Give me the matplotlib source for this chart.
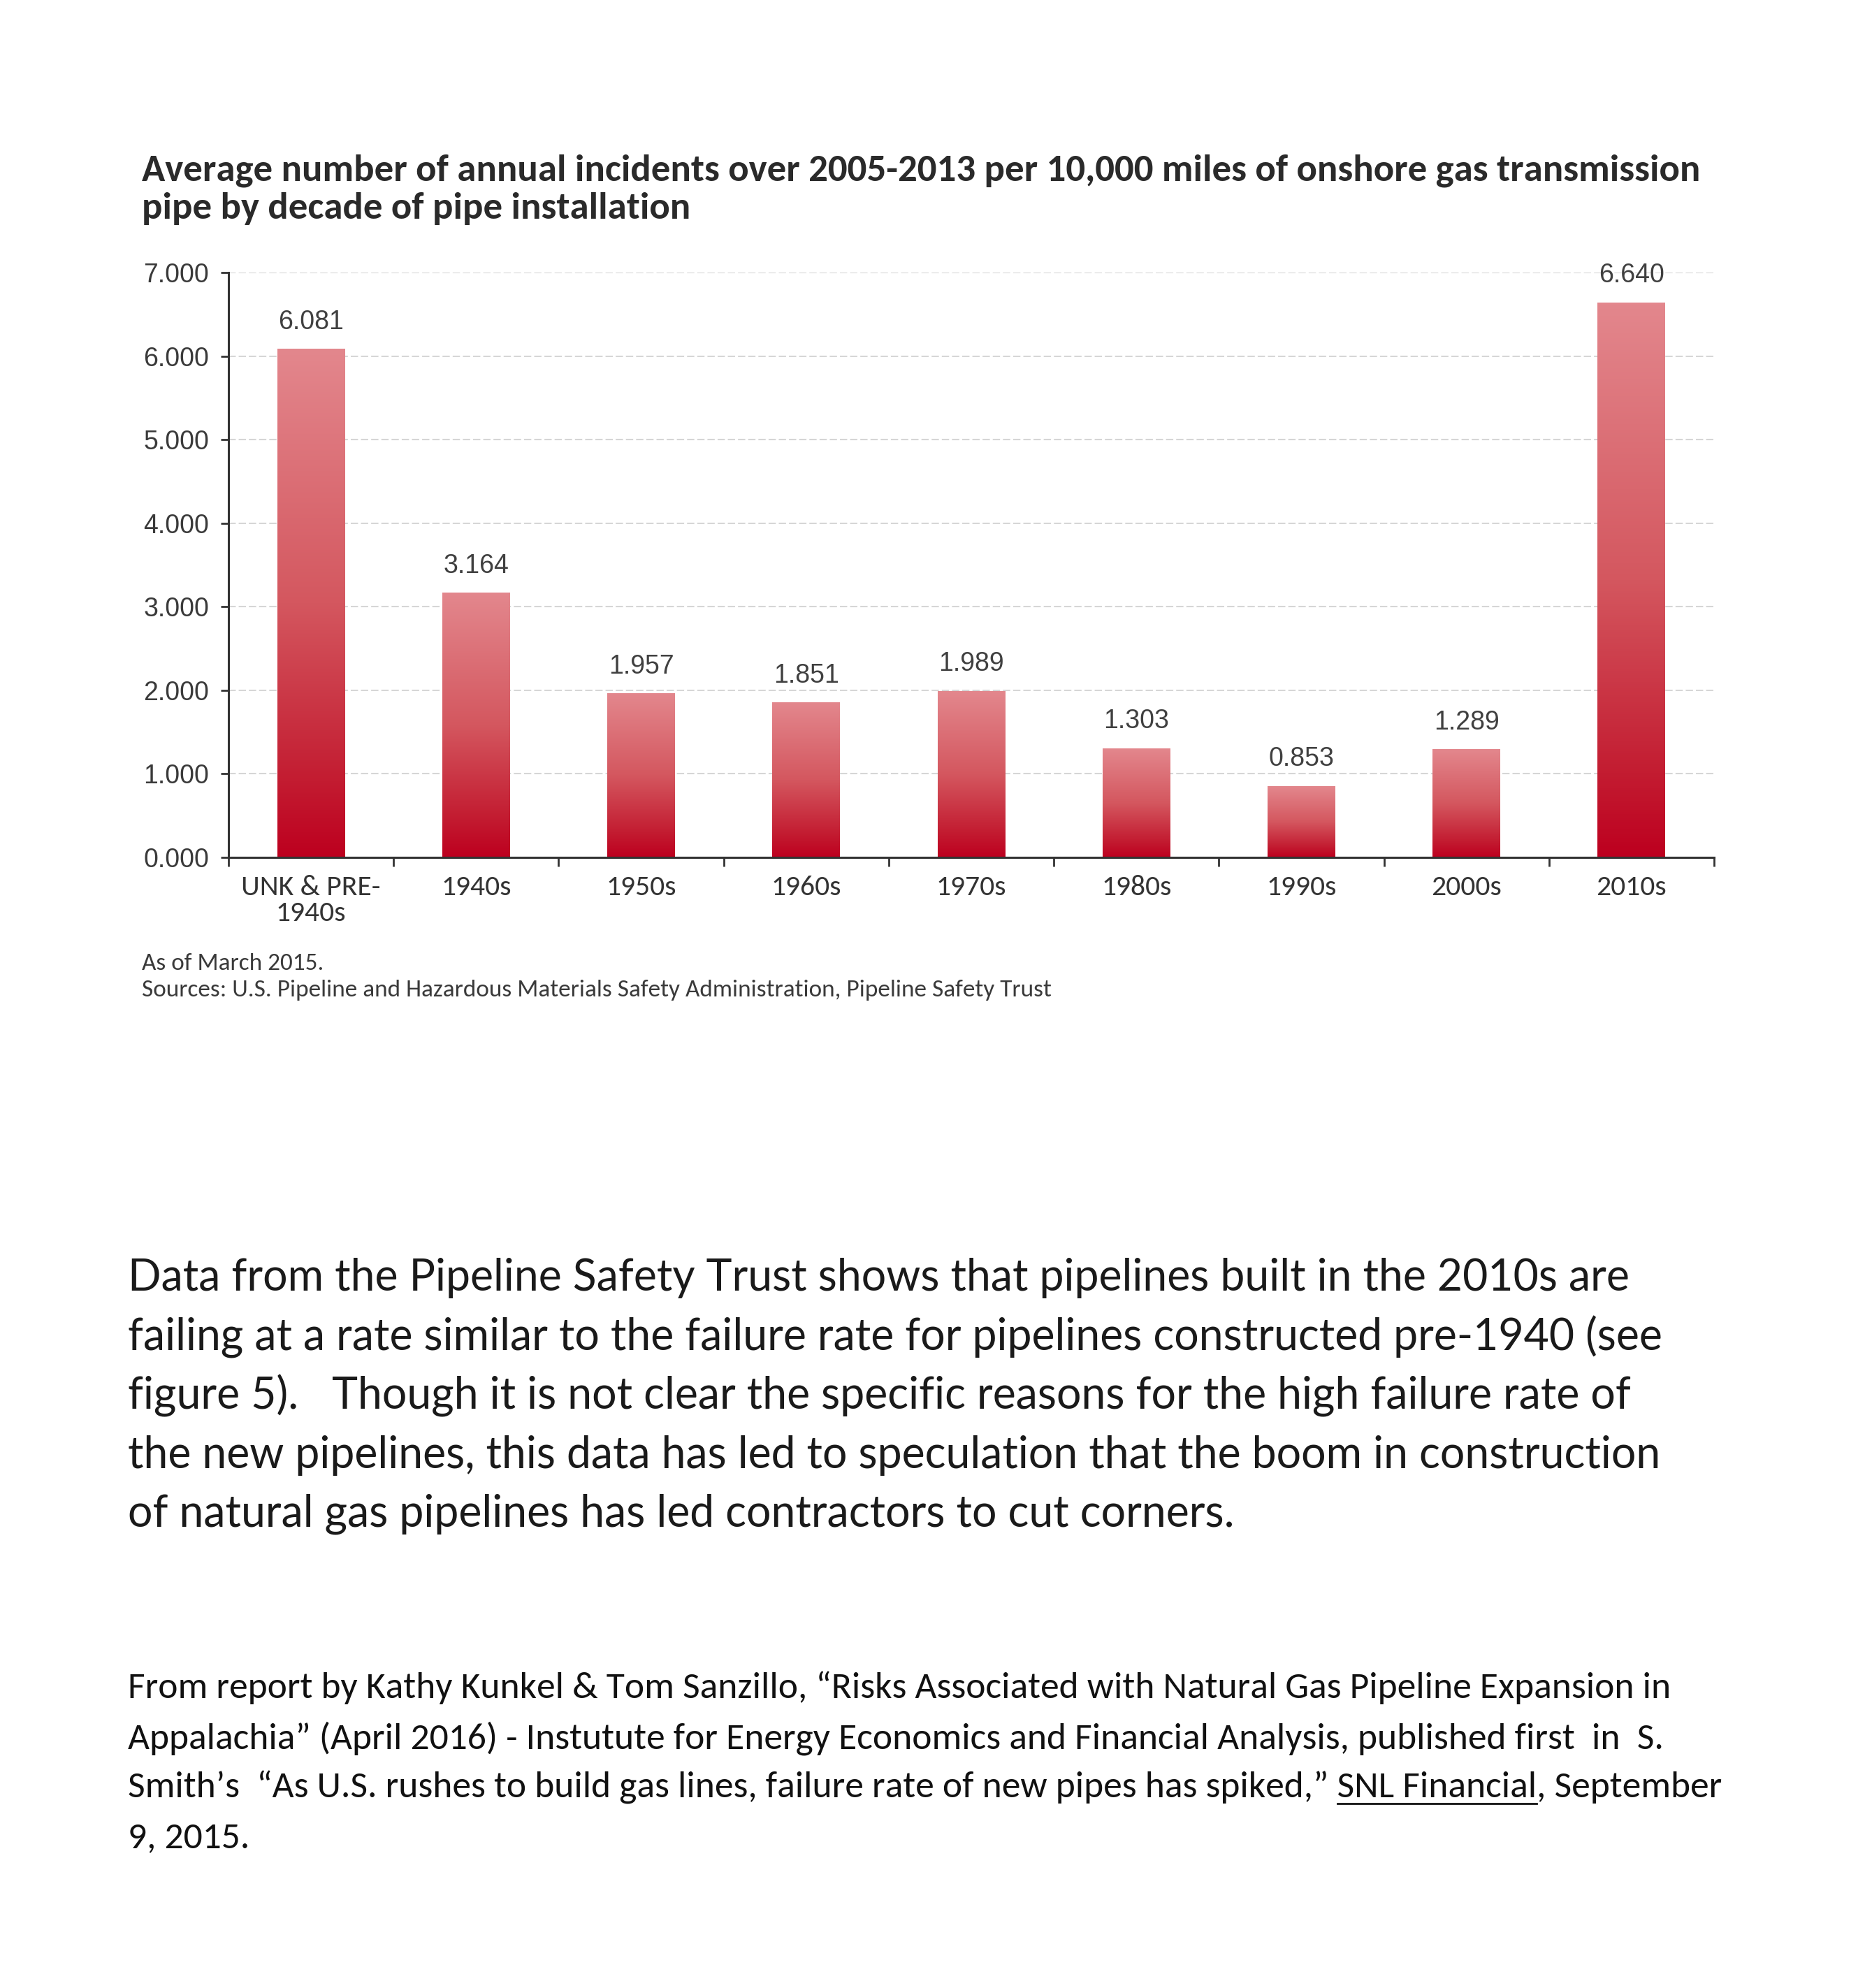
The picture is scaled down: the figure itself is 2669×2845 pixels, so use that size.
import numpy as np, matplotlib
matplotlib.use("Agg"); import matplotlib.pyplot as plt
from matplotlib import font_manager as fm
from matplotlib.colors import LinearSegmentedColormap
from matplotlib.ticker import FormatStrFormatter

# data
decades = ["UNK & PRE-\n1940s", "1940s", "1950s", "1960s", "1970s",
           "1980s", "1990s", "2000s", "2010s"]
incidents = [6.081, 3.164, 1.957, 1.851, 1.989, 1.303, 0.853, 1.289, 6.640]
yticks = [0, 1, 2, 3, 4, 5, 6, 7]

title_lines = ["Average number of annual incidents over 2005-2013 per 10,000 miles of onshore gas transmission",
               "pipe by decade of pipe installation"]
note_lines = ["As of March 2015.",
              "Sources: U.S. Pipeline and Hazardous Materials Safety Administration, Pipeline Safety Trust"]
body_lines = ["Data from the Pipeline Safety Trust shows that pipelines built in the 2010s are",
              "failing at a rate similar to the failure rate for pipelines constructed pre-1940 (see",
              "figure 5).   Though it is not clear the specific reasons for the high failure rate of",
              "the new pipelines, this data has led to speculation that the boom in construction",
              "of natural gas pipelines has led contractors to cut corners."]
cite_lines = ["From report by Kathy Kunkel & Tom Sanzillo, \u201cRisks Associated with Natural Gas Pipeline Expansion in",
              "Appalachia\u201d (April 2016) - Instutute for Energy Economics and Financial Analysis, published first  in  S.",
              "Smith\u2019s  \u201cAs U.S. rushes to build gas lines, failure rate of new pipes has spiked,\u201d SNL Financial, September",
              "9, 2015."]
link = "SNL Financial"

names = {f.name for f in fm.fontManager.ttflist}
ARIAL = "Liberation Sans" if "Liberation Sans" in names else "DejaVu Sans"
BODY = "Lato" if "Lato" in names else "DejaVu Sans"
CITE = "Carlito" if "Carlito" in names else BODY
NARROW = CITE

W, H = 2669, 2845
fig = plt.figure(figsize=(W/100, H/100), dpi=100)
fig.patch.set_facecolor("white")
ax = fig.add_axes([327/W, 1-1227/H, (2453-327)/W, (1227-390)/H])

cmap = LinearSegmentedColormap.from_list("bar", [(0, "#bd001f"), (0.15, "#c31c31"),
                                                 (0.5, "#d4575f"), (1, "#e3878d")])
grad = np.linspace(0, 1, 256).reshape(-1, 1)
x = np.arange(len(decades))
bw = 0.41
bars = ax.bar(x, incidents, width=bw, color="none", zorder=2)
for b, v in zip(bars, incidents):
    ax.imshow(grad, cmap=cmap, origin="lower", aspect="auto", zorder=2,
              extent=[b.get_x(), b.get_x()+b.get_width(), 0, v])
    ax.annotate(f"{v:.3f}", (b.get_x()+b.get_width()/2, v), xytext=(0, 28),
                textcoords="offset points", ha="center", va="center",
                fontsize=27, color="#404040", family=ARIAL)

ax.set_xlim(-0.5, 8.5); ax.set_ylim(0, 7)
ax.set_yticks(yticks)
ax.yaxis.set_major_formatter(FormatStrFormatter("%.3f"))
ax.set_xticks(x); ax.set_xticklabels(decades, fontsize=30, family=NARROW, color="#333333",
                                     linespacing=1.05)
ax.set_xticks(np.arange(-0.5, 9, 1), minor=True)
ax.tick_params(axis="x", which="major", length=0, pad=18)
ax.tick_params(axis="x", which="minor", length=9, width=2, color="#333333")
ax.tick_params(axis="y", length=8, width=2, color="#333333", pad=12,
               labelsize=27, labelcolor="#3a3a3a")
for t in ax.get_yticklabels():
    t.set_family(ARIAL)
for s in ["top", "right"]:
    ax.spines[s].set_visible(False)
for s in ["left", "bottom"]:
    ax.spines[s].set_color("#333333"); ax.spines[s].set_linewidth(2.2)
ax.yaxis.grid(True, color="#d6d6d6", lw=1.5, ls=(0, (5, 2)), zorder=0)
ax.set_axisbelow(True)

# title and source note
fig.text(203/W, 1-259/H, title_lines[0], fontsize=39.5, fontweight="bold", family=NARROW,
         color="#2a2a2a", va="baseline")
fig.text(203/W, 1-313/H, title_lines[1], fontsize=39.5, fontweight="bold", family=NARROW,
         color="#2a2a2a", va="baseline")
for s, yb in zip(note_lines, [1388, 1426]):
    fig.text(203/W, 1-yb/H, s, fontsize=25.4, family=NARROW, color="#3a3a3a", va="baseline")

# paragraph
for s, yb in zip(body_lines, [1847, 1932, 2016, 2101, 2185]):
    fig.text(183/W, 1-yb/H, s, fontsize=45, family=BODY, fontweight="normal",
             color="#1a1a1a", va="baseline")

# citation
cite_kw = dict(fontsize=38.5, family=CITE, color="#111111", va="baseline")
cite_y = [2430, 2502, 2573, 2644]
for s, yb in zip(cite_lines, cite_y):
    fig.text(183/W, 1-yb/H, s, **cite_kw)

# underline the publication name
fig.canvas.draw()
r = fig.canvas.get_renderer()
pre = cite_lines[2][:cite_lines[2].index(link) + len(link)]
t1 = fig.text(183/W, 1-cite_y[2]/H, pre, alpha=0, **cite_kw)
t2 = fig.text(183/W, 1-cite_y[2]/H, link, alpha=0, **cite_kw)
e1 = t1.get_window_extent(r); e2 = t2.get_window_extent(r)
uy = 1-(cite_y[2]+8)/H
fig.add_artist(plt.Line2D([(e1.x1-e2.width)/W, e1.x1/W], [uy, uy], color="#111111", lw=2))

plt.savefig("out.png", dpi=100, facecolor="white")
